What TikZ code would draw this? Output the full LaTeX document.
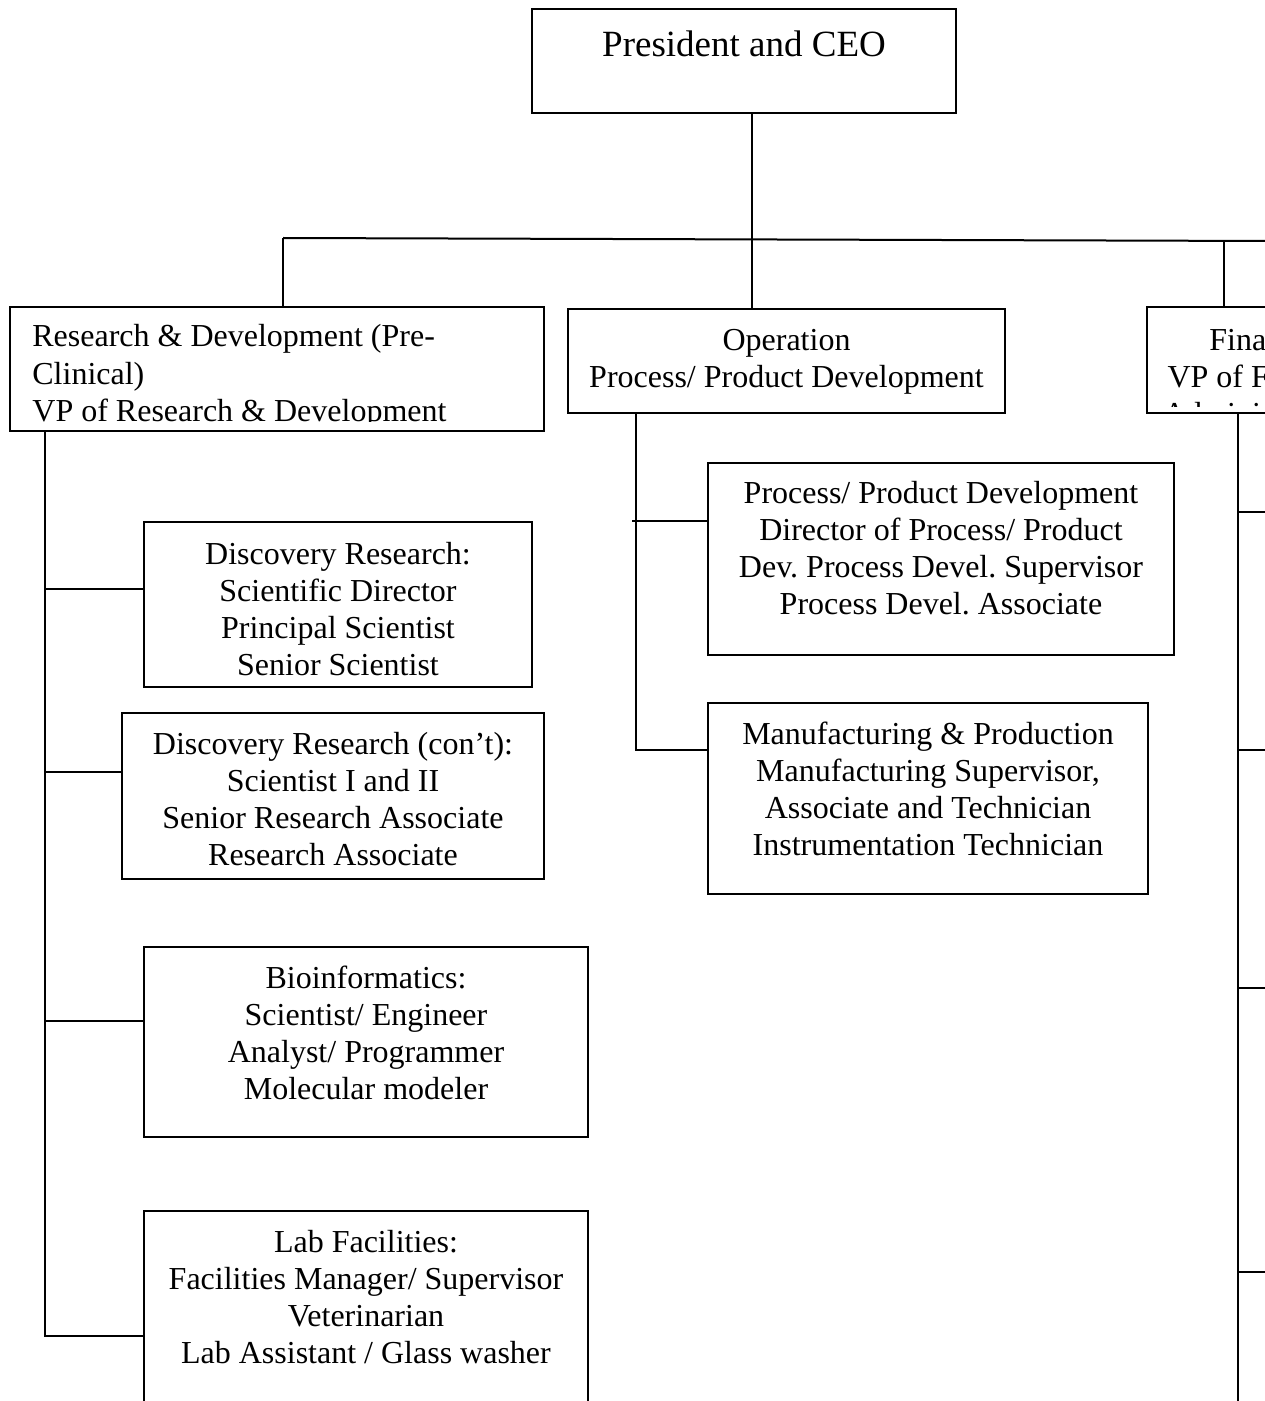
\documentclass[tikz,border=0pt]{standalone}
\usepackage{fontspec}
\setmainfont{Liberation Serif}
\frenchspacing
\usetikzlibrary{calc,positioning}
\tikzset{
  orgbox/.style={draw,line width=1pt,inner sep=0pt,outer sep=0pt,anchor=north west},
  orgtext/.style={align=center,anchor=base,inner sep=0pt,font=\fontsize{16}{18.5}\selectfont},
  link/.style={line width=1pt}
}

\begin{document}
\begin{tikzpicture}[x=0.5pt,y=0.5pt,yscale=-1,xscale=1]
\useasboundingbox (0,0) rectangle (1264,1401);
% note: yshift follows yscale=-1 here, positive goes down; base = last line

%Shape: Rectangle [ceo]
\node[orgbox,minimum width=212pt,minimum height=52pt] (ceo) at (532,9) {};
\node[orgtext,font=\fontsize{18.5}{21}\selectfont] (ceoT) at ([yshift=24pt]ceo.north) {President and CEO};

%Shape: Rectangle [vp boxes]
\node[orgbox,minimum width=267pt,minimum height=62pt] (rd) at (10,307) {};
\node[orgbox,minimum width=218.5pt,minimum height=52pt] (op) at (568,309) {};
\node[orgbox,minimum width=110pt,minimum height=53pt] (fin) at (1147,307) {};

\begin{scope}
\clip (rd.north west) rectangle ([yshift=-5pt]rd.south east);
\node[orgtext,align=left,anchor=base west] (rdT) at ([xshift=11pt,yshift=57pt]rd.north west) {Research \& Development (Pre-\\Clinical)\\VP of Research \& Development};
\end{scope}
\node[orgtext] (opT) at ([yshift=39pt]op.north) {Operation\\Process/ Product Development};
\begin{scope}
\clip (fin.north west) rectangle ([yshift=-3.5pt]fin.south east);
\node[orgtext] (finT) at ([xshift=56.5pt,yshift=58.5pt]fin.north west) {Finance\\VP of Finance\\Administration};
\end{scope}

%Shape: Rectangle [research groups]
\node[orgbox,minimum width=194pt,minimum height=82.5pt] (dr1) at (144,522) {};
\node[orgtext] (dr1T) at ([yshift=76.5pt]dr1.north) {Discovery Research:\\Scientific Director\\Principal Scientist\\Senior Scientist};
\node[orgbox,minimum width=211pt,minimum height=83pt] (dr2) at (122,713) {};
\node[orgtext] (dr2T) at ([yshift=76pt]dr2.north) {Discovery Research (con’t):\\Scientist I and II\\Senior Research Associate\\Research Associate};
\node[orgbox,minimum width=222pt,minimum height=95pt] (bio) at (144,947) {};
\node[orgtext] (bioT) at ([yshift=76pt]bio.north) {Bioinformatics:\\Scientist/ Engineer\\Analyst/ Programmer\\Molecular modeler};
\node[orgbox,minimum width=222pt,minimum height=120pt] (lab) at (144,1211) {};
\node[orgtext] (labT) at ([yshift=76pt]lab.north) {Lab Facilities:\\Facilities Manager/ Supervisor\\Veterinarian\\Lab Assistant / Glass washer};

%Shape: Rectangle [operation groups]
\node[orgbox,minimum width=233pt,minimum height=96pt] (ppd) at (708,463) {};
\node[orgtext] (ppdT) at ([yshift=75.5pt]ppd.north) {Process/ Product Development\\Director of Process/ Product\\Dev. Process Devel. Supervisor\\Process Devel. Associate};
\node[orgbox,minimum width=220pt,minimum height=95.5pt] (mp) at (708,703) {};
\node[orgtext] (mpT) at ([yshift=76pt]mp.north) {Manufacturing \& Production\\Manufacturing Supervisor,\\Associate and Technician\\Instrumentation Technician};

%Straight Lines [top bus]
\coordinate (busL) at (283,238);
\coordinate (busR) at (1270,241);
\coordinate (finD) at (1224,241);
\draw[link] (busL) -- (busR);
\draw[link] ([xshift=4pt]ceo.south) -- ([xshift=4pt]ceo.south |- op.north);
\draw[link] (busL) -- (busL |- rd.north);
\draw[link] (finD) -- (finD |- fin.north);

%Straight Lines [left trunk]
\path (rd.south west) ++(35,0) coordinate (trunkL);
\path ([yshift=62.5pt]lab.north west) coordinate (labB);
\draw[link] (trunkL) -- (trunkL |- labB) -- (labB);
\foreach \n/\d in {dr1/33.5,dr2/29.5,bio/37}{
  \path ([yshift=\d pt]\n.north west) coordinate (tmp);
  \draw[link] (tmp) -- (tmp -| trunkL);
}

%Straight Lines [middle trunk]
\path (op.south west) ++(68,0) coordinate (trunkM);
\path ([yshift=23.5pt]mp.north west) coordinate (mpB);
\path ([yshift=29pt]ppd.north west) coordinate (ppdB);
\draw[link] (trunkM) -- (trunkM |- mpB) -- (mpB);
\draw[link] (ppdB) -- ([xshift=-2pt]ppdB -| trunkM);

%Straight Lines [right trunk]
\path (fin.south west) ++(91,0) coordinate (trunkR);
\draw[link] (trunkR) -- (trunkR |- 0,1410);
\foreach \y in {512,750,988,1272}{
  \draw[link] (trunkR |- 0,\y) -- (1270,\y);
}

\end{tikzpicture}
\end{document}
